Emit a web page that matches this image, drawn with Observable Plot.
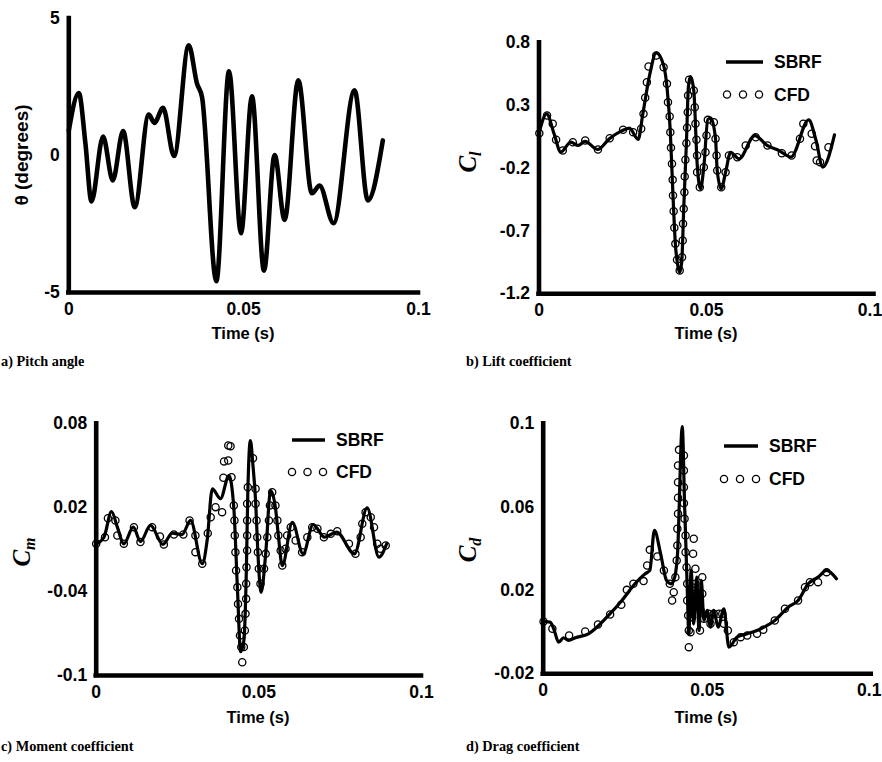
<!DOCTYPE html>
<html><head><meta charset="utf-8">
<script src="https://cdn.jsdelivr.net/npm/d3@7"></script>
<script src="https://cdn.jsdelivr.net/npm/@observablehq/plot@0.6"></script>
<style>
body{margin:0;background:#fff}
#wrap{position:relative;width:882px;height:762px;overflow:hidden;background:#fff}
.panel{position:absolute}
.lab{position:absolute;font:bold 16.5px "Liberation Sans",Arial,sans-serif;white-space:nowrap;transform:translate(-50%,-50%);line-height:1}
.ylab{position:absolute;white-space:nowrap;transform:translate(-50%,-50%) rotate(-90deg);line-height:1}
.coef{font:italic bold 25px "Liberation Serif","Times New Roman",serif}
.coef sub{font-size:16px;vertical-align:-5px}
.cap{position:absolute;font:bold 14.3px "Liberation Serif","Times New Roman",serif;white-space:nowrap;transform:translateY(-50%);line-height:1}
#legend{position:absolute;left:0;top:0;pointer-events:none}
</style></head>
<body><div id="wrap"></div>
<script>
// ---------- tick labels ----------
const timeTicks = [0, 0.05, 0.1];
const thetaTicks = [-5, 0, 5];
const clTicks = [-1.2, -0.7, -0.2, 0.3, 0.8];
const cmTicks = [-0.1, -0.04, 0.02, 0.08];
const cdTicks = [-0.02, 0.02, 0.06, 0.1];

// ---------- a) pitch angle ----------
const thetaTime = [0, 0.00286, 0.00476, 0.00648, 0.0098, 0.01257, 0.01552, 0.01886, 0.02286, 0.02448, 0.02695, 0.0301, 0.03429, 0.03667, 0.0381, 0.04219, 0.04581, 0.04924, 0.05238, 0.05581, 0.05886, 0.06171, 0.06562, 0.06952, 0.07171, 0.07571, 0.08171, 0.08552, 0.0898];
const thetaDeg = [0.91, 2.28, 0.43, -1.68, 0.69, -0.91, 0.89, -1.89, 1.49, 1.19, 1.74, -0.02, 4.02, 2.62, 2.13, -4.59, 3.07, -2.84, 2.16, -4.2, 0.02, -2.35, 2.74, -1.38, -1.1, -2.47, 2.38, -1.64, 0.55];

// ---------- b) lift coefficient ----------
const clSbrfTime = [0, 0.0023, 0.0045, 0.0065, 0.0095, 0.0117, 0.0137, 0.0175, 0.021, 0.0245, 0.027, 0.0296, 0.031, 0.033, 0.035, 0.0372, 0.0383, 0.0392, 0.04, 0.0407, 0.0414, 0.042, 0.0426, 0.0432, 0.044, 0.0446, 0.0452, 0.0462, 0.0472, 0.0482, 0.0492, 0.0504, 0.0513, 0.0527, 0.0532, 0.0544, 0.0557, 0.0572, 0.0597, 0.0644, 0.0681, 0.0716, 0.0752, 0.0805, 0.0827, 0.0847, 0.0882];
const clSbrf = [0.08, 0.234, 0.075, -0.07, 0.008, -0.018, 0.014, -0.05, 0.035, 0.096, 0.12, 0.03, 0.234, 0.54, 0.72, 0.62, 0.42, 0.09, -0.42, -0.8, -0.97, -1.03, -0.95, -0.52, 0.0, 0.45, 0.53, 0.42, -0.16, -0.363, -0.19, 0.19, 0.2, 0.035, -0.218, -0.363, -0.231, -0.072, -0.124, 0.061, -0.018, -0.058, -0.11, 0.186, 0.022, -0.19, 0.067];
const clCfdTime = [0.0001, 0.0024, 0.0041, 0.0051, 0.0071, 0.0101, 0.0138, 0.0176, 0.0211, 0.0251, 0.0281, 0.0305, 0.0312, 0.0317, 0.0322, 0.0327, 0.035, 0.0372, 0.0382, 0.0385, 0.039, 0.0392, 0.0394, 0.0397, 0.0399, 0.04, 0.0402, 0.0404, 0.0407, 0.0412, 0.042, 0.0427, 0.0429, 0.043, 0.0432, 0.0434, 0.0435, 0.0437, 0.044, 0.0442, 0.0444, 0.0445, 0.0448, 0.0462, 0.0465, 0.0467, 0.047, 0.0472, 0.0472, 0.048, 0.0492, 0.0497, 0.05, 0.0504, 0.0522, 0.0527, 0.053, 0.0532, 0.0544, 0.0557, 0.0567, 0.0592, 0.0617, 0.0647, 0.0682, 0.0725, 0.0754, 0.0779, 0.0789, 0.0814, 0.0824, 0.0829, 0.0839, 0.0864];
const clCfd = [0.08, 0.221, 0.155, 0.027, -0.058, 0.008, 0.022, -0.05, 0.04, 0.107, 0.088, 0.115, 0.234, 0.362, 0.486, 0.611, 0.699, 0.606, 0.473, 0.327, 0.213, 0.088, -0.037, -0.164, -0.292, -0.417, -0.542, -0.674, -0.802, -0.929, -1.014, -0.908, -0.775, -0.642, -0.523, -0.39, -0.265, -0.132, 0.0, 0.123, 0.247, 0.38, 0.505, 0.42, 0.287, 0.155, 0.027, -0.098, -0.231, -0.351, -0.191, -0.072, 0.061, 0.186, 0.167, 0.035, -0.098, -0.218, -0.351, -0.231, -0.098, -0.112, -0.018, 0.048, -0.018, -0.08, -0.098, 0.035, 0.155, 0.075, -0.024, -0.138, -0.151, -0.032];

// ---------- c) moment coefficient ----------
const cmSbrfTime = [0, 0.0024, 0.0047, 0.0065, 0.0085, 0.0114, 0.0136, 0.0167, 0.0205, 0.0234, 0.0264, 0.029, 0.0326, 0.0341, 0.0357, 0.0382, 0.0408, 0.0423, 0.0434, 0.0444, 0.0454, 0.0462, 0.0466, 0.0474, 0.0482, 0.049, 0.0497, 0.0507, 0.0521, 0.0536, 0.0551, 0.056, 0.0572, 0.0603, 0.0636, 0.0667, 0.0702, 0.0739, 0.0794, 0.0833, 0.0869, 0.0893];
const cmSbrf = [-0.0058, -0.0011, 0.0173, 0.0061, -0.0058, 0.0061, -0.0042, 0.0073, -0.0063, 0.0018, 0.0008, 0.0109, -0.0201, -0.0035, 0.0335, 0.0264, 0.043, 0.02, -0.037, -0.083, -0.075, -0.02, 0.03, 0.068, 0.05, 0.025, -0.012, -0.0405, -0.013, 0.0323, 0.02, 0.0, -0.0214, 0.0096, -0.013, 0.008, -0.0011, 0.0025, -0.013, 0.0199, -0.0154, -0.0058];
const cmCfdTime = [0, 0.0027, 0.0036, 0.0059, 0.0065, 0.0085, 0.0116, 0.0136, 0.0172, 0.0196, 0.0208, 0.0239, 0.0268, 0.0287, 0.0305, 0.0305, 0.0326, 0.0343, 0.0352, 0.0367, 0.0387, 0.0391, 0.0393, 0.0406, 0.0406, 0.0413, 0.0416, 0.0423, 0.0425, 0.0426, 0.0428, 0.043, 0.0434, 0.0436, 0.0439, 0.0442, 0.0446, 0.0449, 0.0454, 0.0457, 0.0459, 0.0461, 0.0461, 0.0462, 0.0464, 0.0464, 0.0464, 0.0464, 0.0466, 0.0482, 0.049, 0.049, 0.0493, 0.0495, 0.0497, 0.05, 0.0505, 0.0516, 0.0521, 0.0526, 0.0531, 0.0534, 0.0541, 0.0551, 0.0557, 0.056, 0.0567, 0.0572, 0.0582, 0.0587, 0.0598, 0.0613, 0.0633, 0.0649, 0.0664, 0.068, 0.07, 0.0721, 0.0741, 0.0777, 0.0797, 0.0813, 0.0818, 0.0828, 0.0844, 0.0854, 0.0864, 0.0874, 0.089];
const cmCfd = [-0.0058, -0.0012, 0.0125, 0.0109, 0.0001, -0.0058, 0.0061, -0.0046, 0.0061, -0.0006, -0.0063, 0.0008, 0.0008, 0.0109, 0.0001, -0.0118, -0.0201, 0.0018, 0.0132, 0.0204, 0.0168, 0.0414, 0.0531, 0.0538, 0.0645, 0.064, 0.0418, 0.0216, 0.0109, 0.0001, -0.0118, -0.0249, -0.0368, -0.0488, -0.0595, -0.0714, -0.0797, -0.0905, -0.0797, -0.0678, -0.0559, -0.0452, -0.0344, -0.0225, -0.0106, 0.0001, 0.0109, 0.0228, 0.0347, 0.0554, 0.0335, 0.0228, 0.0109, -0.0011, -0.0118, -0.0237, -0.0344, -0.0237, -0.013, -0.0011, 0.0109, 0.0216, 0.0311, 0.0216, 0.0109, 0.0001, -0.0106, -0.0213, -0.0094, 0.0001, 0.0061, -0.0035, -0.0118, -0.0011, 0.0061, 0.0049, -0.0011, 0.0013, 0.0032, -0.0058, -0.013, -0.0011, 0.0085, 0.0168, 0.0132, 0.0061, -0.0058, -0.0094, -0.007];

// ---------- d) drag coefficient ----------
const cdSbrfTime = [0, 0.0021, 0.0032, 0.0047, 0.0062, 0.0077, 0.0098, 0.0138, 0.0199, 0.024, 0.028, 0.0311, 0.0325, 0.0339, 0.0358, 0.0376, 0.039, 0.0398, 0.0409, 0.0424, 0.0431, 0.0439, 0.0444, 0.0451, 0.0459, 0.0468, 0.0475, 0.0482, 0.049, 0.05, 0.051, 0.052, 0.0533, 0.0551, 0.0566, 0.0591, 0.0622, 0.0652, 0.0683, 0.0706, 0.0747, 0.0777, 0.0808, 0.0838, 0.0864, 0.0894];
const cdSbrf = [0.0051, 0.0048, 0.0016, -0.0048, -0.0027, -0.004, -0.0027, -0.0008, 0.008, 0.0152, 0.0232, 0.028, 0.0296, 0.0488, 0.0376, 0.0248, 0.0232, 0.0248, 0.036, 0.0987, 0.0616, 0.0216, -0.0008, 0.0296, 0.004, 0.0264, 0.0008, 0.0248, 0.0056, 0.0104, 0.0024, 0.0104, 0.0024, 0.0112, -0.0072, -0.0024, -0.0008, 0.0008, 0.0032, 0.0056, 0.012, 0.0152, 0.0232, 0.0264, 0.0296, 0.0256];
const cdCfdTime = [0.0001, 0.0028, 0.0079, 0.0128, 0.0167, 0.0204, 0.0238, 0.0255, 0.0275, 0.0306, 0.0317, 0.0325, 0.0348, 0.0368, 0.0386, 0.0393, 0.0398, 0.0403, 0.0407, 0.0409, 0.0409, 0.0411, 0.0411, 0.0411, 0.0411, 0.0414, 0.0429, 0.0429, 0.0429, 0.0429, 0.0431, 0.0434, 0.0434, 0.0437, 0.0439, 0.0439, 0.0442, 0.0444, 0.0444, 0.0449, 0.0454, 0.0454, 0.0454, 0.0457, 0.0459, 0.0464, 0.0464, 0.047, 0.0478, 0.048, 0.0485, 0.0485, 0.049, 0.0505, 0.051, 0.052, 0.0536, 0.0546, 0.0551, 0.0563, 0.0581, 0.0602, 0.0622, 0.0652, 0.0671, 0.0706, 0.0737, 0.0777, 0.0798, 0.0813, 0.0838, 0.0864];
const cdCfd = [0.0051, 0.0016, -0.0016, 0.0003, 0.0037, 0.0085, 0.0131, 0.0203, 0.0232, 0.0245, 0.032, 0.0395, 0.0363, 0.0296, 0.0232, 0.0152, 0.0192, 0.0264, 0.0344, 0.0416, 0.0496, 0.0568, 0.0645, 0.072, 0.08, 0.0875, 0.0848, 0.0776, 0.0696, 0.0619, 0.0544, 0.0464, 0.0384, 0.0312, 0.0232, 0.0152, 0.008, 0.0008, -0.0072, 0.0, 0.0072, 0.0144, 0.0216, 0.0376, 0.0448, 0.0304, 0.0232, 0.0144, 0.0008, 0.0104, 0.0184, 0.0264, 0.0064, 0.0088, 0.004, 0.0088, 0.0088, 0.0088, 0.004, 0.0008, -0.0048, -0.0024, -0.0016, -0.0008, 0.0011, 0.0056, 0.0112, 0.0152, 0.0216, 0.024, 0.024, 0.0288];

const zip = (t, v) => t.map((x, i) => ({t: x, v: v[i]}));

const panels = [
  {left: 0, top: 0, w: 441, h: 380, m: [18, 23, 88, 68.3], yDomain: [-5, 5], yTicks: thetaTicks,
   line: zip(thetaTime, thetaDeg), cfd: null, lw: 4.6, lastDx: 0},
  {left: 441, top: 0, w: 441, h: 380, m: [42.3, 8.5, 86.7, 97.5], yDomain: [-1.2, 0.8], yTicks: clTicks,
   line: zip(clSbrfTime, clSbrf), cfd: zip(clCfdTime, clCfd), lw: 3.2, lastDx: -4},
  {left: 0, top: 380, w: 441, h: 382, m: [43.3, 20, 87, 95.7], yDomain: [-0.1, 0.08], yTicks: cmTicks,
   line: zip(cmSbrfTime, cmSbrf), cfd: zip(cmCfdTime, cmCfd), lw: 3.2, lastDx: 0},
  {left: 441, top: 380, w: 441, h: 382, m: [43.3, 11.3, 88.7, 101.7], yDomain: [-0.02, 0.1], yTicks: cdTicks,
   line: zip(cdSbrfTime, cdSbrf), cfd: zip(cdCfdTime, cdCfd), lw: 3.2, lastDx: -2}
];

const wrap = document.getElementById("wrap");

for (const p of panels) {
  const [mt, mr, mb, ml] = p.m;
  const chart = Plot.plot({
    width: p.w, height: p.h,
    marginTop: mt, marginRight: mr, marginBottom: mb, marginLeft: ml,
    x: {domain: [0, 0.1]},
    y: {domain: p.yDomain},
    style: {font: "bold 17.5px 'Liberation Sans', Arial, sans-serif", background: "transparent", maxWidth: "none", overflow: "visible"},
    marks: [
      Plot.axisX({ticks: timeTicks.slice(0, -1), tickSize: 0, tickPadding: 10, tickFormat: d => String(d), label: null}),
      Plot.axisX({ticks: timeTicks.slice(-1), tickSize: 0, tickPadding: 10, tickFormat: d => String(d), label: null, dx: p.lastDx}),
      Plot.axisY({ticks: p.yTicks, tickSize: 0, tickPadding: 9, tickFormat: d => String(d), label: null}),
      Plot.ruleX([0], {y1: p.yDomain[0], y2: p.yDomain[1], stroke: "black", strokeWidth: 4.6, strokeLinecap: "square"}),
      Plot.ruleY([p.yDomain[0]], {x1: 0, x2: 0.1, stroke: "black", strokeWidth: 4.6, strokeLinecap: "square"}),
      Plot.line(p.line, {x: "t", y: "v", curve: "monotone-x", stroke: "black", strokeWidth: p.lw, strokeLinejoin: "round"}),
      p.cfd ? Plot.dot(p.cfd, {x: "t", y: "v", r: 3.6, stroke: "black", strokeWidth: 1.3, fill: "none"}) : null
    ]
  });
  const div = document.createElement("div");
  div.className = "panel";
  div.style.left = p.left + "px";
  div.style.top = p.top + "px";
  div.appendChild(chart);
  wrap.appendChild(div);
}

// legends (SBRF line / CFD circles)
const legends = [
  {x1: 726, x2: 763, yl: 62, cx: [727, 743, 759], yc: 94.5, tx: 774},
  {x1: 292, x2: 325, yl: 440, cx: [292, 307.5, 323], yc: 472, tx: 336},
  {x1: 724, x2: 758, yl: 446, cx: [724, 740, 756], yc: 479, tx: 769}
];
const lsvg = d3.select(wrap).append("svg").attr("id", "legend").attr("width", 882).attr("height", 762);
for (const L of legends) {
  lsvg.append("line").attr("x1", L.x1).attr("x2", L.x2).attr("y1", L.yl).attr("y2", L.yl)
    .attr("stroke", "black").attr("stroke-width", 3.4);
  for (const cx of L.cx) lsvg.append("circle").attr("cx", cx).attr("cy", L.yc).attr("r", 3.6)
    .attr("fill", "none").attr("stroke", "black").attr("stroke-width", 1.3);
  lsvg.append("text").attr("x", L.tx).attr("y", L.yl).attr("dy", "0.36em").text("SBRF")
    .attr("font-family", "Liberation Sans, Arial, sans-serif").attr("font-weight", "bold").attr("font-size", 17.5);
  lsvg.append("text").attr("x", L.tx).attr("y", L.yc).attr("dy", "0.36em").text("CFD")
    .attr("font-family", "Liberation Sans, Arial, sans-serif").attr("font-weight", "bold").attr("font-size", 17.5);
}

// axis titles and captions
function addDiv(cls, html, x, y, extraStyle) {
  const d = document.createElement("div");
  d.className = cls;
  d.innerHTML = html;
  d.style.left = x + "px";
  d.style.top = y + "px";
  if (extraStyle) d.style.cssText += extraStyle;
  wrap.appendChild(d);
}
addDiv("lab", "Time (s)", 243, 333);
addDiv("lab", "Time (s)", 706, 333);
addDiv("lab", "Time (s)", 258, 717);
addDiv("lab", "Time (s)", 706, 717);
addDiv("ylab", "θ (degrees)", 22, 155, "font:bold 19px 'Liberation Sans',Arial,sans-serif;");
addDiv("ylab coef", "C<sub>l</sub>", 469, 162);
addDiv("ylab coef", "C<sub>m</sub>", 23, 552);
addDiv("ylab coef", "C<sub>d</sub>", 469, 550);
addDiv("cap", "a) Pitch angle", 1, 361);
addDiv("cap", "b) Lift coefficient", 466, 361);
addDiv("cap", "c) Moment coefficient", 1, 746);
addDiv("cap", "d) Drag coefficient", 466, 746);
</script>
</body></html>
